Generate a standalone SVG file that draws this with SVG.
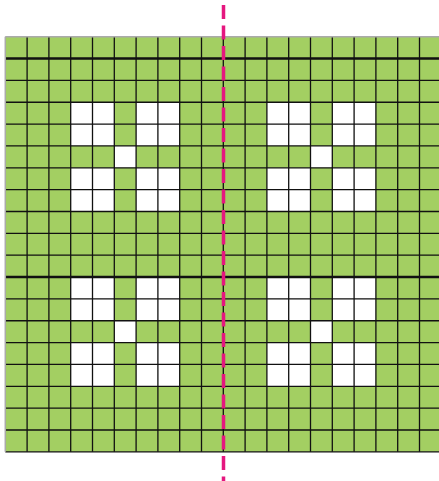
<svg xmlns="http://www.w3.org/2000/svg" xmlns:xlink="http://www.w3.org/1999/xlink" width="439" height="481" viewBox="0 0 439 481">
<style>
.g{fill:#a3cf62}
.w{fill:#ffffff}
.ln{stroke:#111;stroke-width:1.3;fill:none}
.thk{stroke:#111;stroke-width:2.4;fill:none}
.edge{stroke:#aaa;stroke-width:1.5;fill:none}
.axis{stroke:#e5177f;stroke-width:3.5;stroke-dasharray:14 6.5;fill:none}
</style>
<defs>
<g id="motif">
<rect class="w" x="0" y="0" width="43.6" height="43.7"/>
<rect class="w" x="65.4" y="0" width="43.6" height="43.7"/>
<rect class="w" x="43.6" y="43.7" width="21.8" height="21.85"/>
<rect class="w" x="0" y="65.55" width="43.6" height="43.7"/>
<rect class="w" x="65.4" y="65.55" width="43.6" height="43.7"/>
</g>
</defs>
<g id="board">
<rect class="g" x="5.3" y="36.7" width="436" height="415.1"/>
<use xlink:href="#motif" x="70.7" y="102.25"/>
<use xlink:href="#motif" x="266.9" y="102.25"/>
<use xlink:href="#motif" x="70.7" y="277.05"/>
<use xlink:href="#motif" x="266.9" y="277.05"/>
</g>
<g id="grid">
<path class="ln" d="M27.1 36.7V451.8M48.9 36.7V451.8M70.7 36.7V451.8M92.5 36.7V451.8M114.3 36.7V451.8M136.1 36.7V451.8M157.9 36.7V451.8M179.7 36.7V451.8M201.5 36.7V451.8M223.3 36.7V451.8M245.1 36.7V451.8M266.9 36.7V451.8M288.7 36.7V451.8M310.5 36.7V451.8M332.3 36.7V451.8M354.1 36.7V451.8M375.9 36.7V451.8M397.7 36.7V451.8M419.5 36.7V451.8"/>
<path class="ln" d="M5.3 80.4H441M5.3 102.25H441M5.3 124.1H441M5.3 145.95H441M5.3 167.8H441M5.3 189.65H441M5.3 211.5H441M5.3 233.35H441M5.3 255.2H441M5.3 298.9H441M5.3 320.75H441M5.3 342.6H441M5.3 364.45H441M5.3 386.3H441M5.3 408.15H441M5.3 430H441M5.3 451.8H441"/>
<path class="thk" d="M5.3 58.55H441M5.3 277.05H441"/>
<path class="edge" d="M5.3 36.7H441M5.3 36.7V451.8"/>
</g>
<g id="connectors">
<line class="axis" x1="223.5" y1="5" x2="223.5" y2="481"/>
</g>
</svg>
